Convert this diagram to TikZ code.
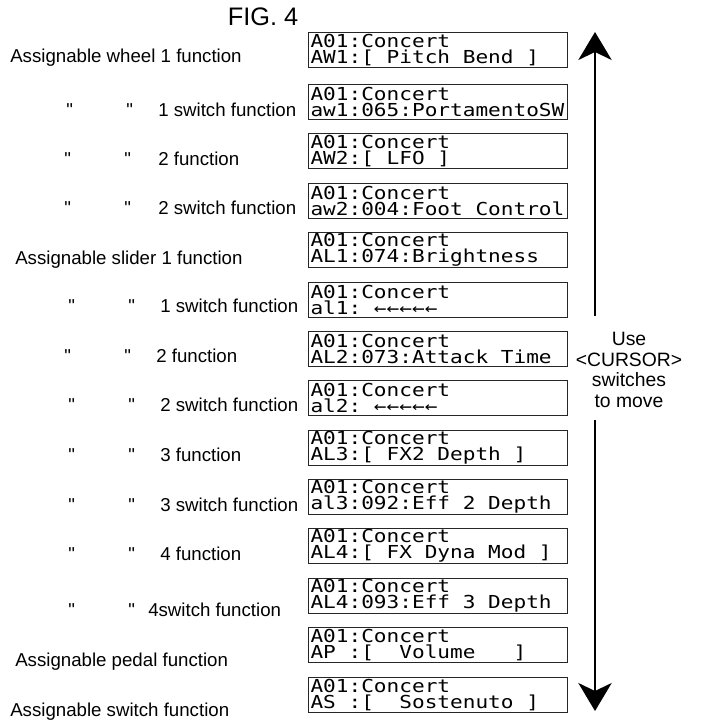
\documentclass[tikz,border=0pt]{standalone}
\usepackage{fontspec}
\setmainfont{Liberation Sans}[Ligatures=TeXOff]
\newfontfamily\lcdfont{DejaVu Sans Mono}[FakeStretch=1.18]
\usetikzlibrary{arrows.meta}

% ditto marks in front of a function name
\newcommand{\dittorow}[2][24pt]{\makebox[45pt][l]{"}\makebox[#1][l]{"}#2}
% one blank character cell on the display
\newcommand{\lsp}{\phantom{0}}

\tikzset{
  screen/.style={draw=black!85, line width=0.8pt, anchor=north west,
    text width=191.25pt, align=left, minimum height=26.25pt,
    inner xsep=1.5pt, inner ysep=0pt,
    font=\lcdfont\fontsize{13.4}{12}\selectfont},
  fnlabel/.style={anchor=base west, inner sep=0pt,
    font=\fontsize{14}{16}\selectfont},
  cursorarrow/.style={line width=1.5pt,
    -{Stealth[length=21pt, width=25pt, inset=6pt]}}
}

\begin{document}
\begin{tikzpicture}[x=0.75pt, y=-0.75pt]
\useasboundingbox (0,0) rectangle (700,724);

% ── Title ─────────────────────────────────────────────────────
\node[font=\fontsize{19}{22}\selectfont, inner sep=0pt] (fig) at (263,17) {FIG. 4};

% ── Display screens ───────────────────────────────────────────
\node[screen] (scr1)  at (308,32)  {A01:Concert\\AW1:[\lsp Pitch\lsp Bend\lsp]};
\node[screen] (scr2)  at (308,84)  {A01:Concert\\aw1:065:PortamentoSW};
\node[screen] (scr3)  at (308,133) {A01:Concert\\AW2:[\lsp LFO\lsp]};
\node[screen] (scr4)  at (308,183) {A01:Concert\\aw2:004:Foot\lsp Control};
\node[screen] (scr5)  at (308,232) {A01:Concert\\AL1:074:Brightness};
\node[screen] (scr6)  at (308,282) {A01:Concert\\al1:\lsp ←←←←←};
\node[screen] (scr7)  at (308,331) {A01:Concert\\AL2:073:Attack\lsp Time};
\node[screen] (scr8)  at (308,380) {A01:Concert\\al2:\lsp ←←←←←};
\node[screen] (scr9)  at (308,430) {A01:Concert\\AL3:[\lsp FX2\lsp Depth\lsp]};
\node[screen] (scr10) at (308,479) {A01:Concert\\al3:092:Eff\lsp 2\lsp Depth};
\node[screen] (scr11) at (308,528) {A01:Concert\\AL4:[\lsp FX\lsp Dyna\lsp Mod\lsp]};
\node[screen] (scr12) at (308,578) {A01:Concert\\AL4:093:Eff\lsp 3\lsp Depth};
\node[screen] (scr13) at (308,627) {A01:Concert\\AP\lsp:[\lsp\lsp Volume\lsp\lsp\lsp]};
\node[screen] (scr14) at (308,677) {A01:Concert\\AS\lsp:[\lsp\lsp Sostenuto\lsp]};

% ── Function names ────────────────────────────────────────────
\node[fnlabel] (fn1)  at (10,63)  {Assignable wheel 1 function};
\node[fnlabel] (fn2)  at (66,116) {\dittorow{1 switch function}};
\node[fnlabel] (fn3)  at (64,165) {\dittorow[25.5pt]{2 function}};
\node[fnlabel] (fn4)  at (64,214) {\dittorow[25.5pt]{2 switch function}};
\node[fnlabel] (fn5)  at (15,264) {Assignable slider 1 function};
\node[fnlabel] (fn6)  at (68,312) {\dittorow{1 switch function}};
\node[fnlabel] (fn7)  at (64,362) {\dittorow{2 function}};
\node[fnlabel] (fn8)  at (68,411) {\dittorow{2 switch function}};
\node[fnlabel] (fn9)  at (68,461) {\dittorow{3 function}};
\node[fnlabel] (fn10) at (68,511) {\dittorow{3 switch function}};
\node[fnlabel] (fn11) at (68,560) {\dittorow{4 function}};
\node[fnlabel] (fn12) at (68,616) {\dittorow[15pt]{4switch function}};
\node[fnlabel] (fn13) at (15,666) {Assignable pedal function};
\node[fnlabel] (fn14) at (10,716) {Assignable switch function};

% ── Cursor arrows ─────────────────────────────────────────────
\node[font=\fontsize{14.5}{15.5}\selectfont, align=center, inner sep=0pt]
    (cursor) at (629,370) {Use\\<CURSOR>\\switches\\to move};
\coordinate (upfoot)   at (595,316);
\coordinate (uptip)    at (595,32);
\coordinate (downfoot) at (595,420);
\coordinate (downtip)  at (595,711);
\draw[cursorarrow] (upfoot) -- (uptip);
\draw[cursorarrow] (downfoot) -- (downtip);

\end{tikzpicture}
\end{document}
